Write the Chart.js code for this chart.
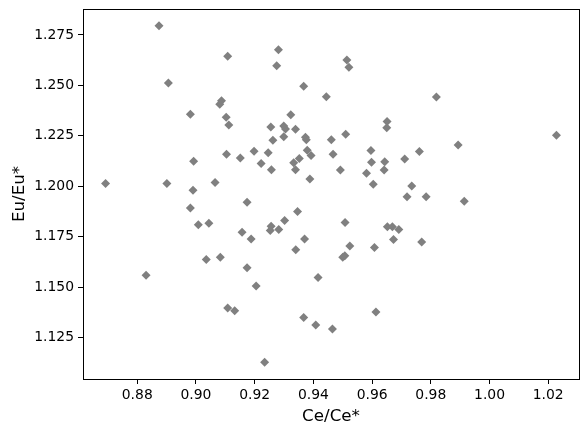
<!DOCTYPE html>
<html>
<head>
<meta charset="utf-8">
<script src="https://cdn.jsdelivr.net/npm/chart.js@4.4.1/dist/chart.umd.min.js"></script>
<style>
  html, body { margin: 0; padding: 0; background: #fff; }
  #chart { display: block; }
</style>
</head>
<body>
<canvas id="chart" width="588" height="436"></canvas>
<script>
// Ce/Ce* vs Eu/Eu* values
const ceRatio = [
  0.8692, 0.8830, 0.8874, 0.8906, 0.8901, 0.8981, 0.8992, 0.8990, 0.8981, 0.9008,
  0.9044, 0.9035, 0.9065, 0.9083, 0.9081, 0.9087, 0.9103, 0.9112, 0.9104, 0.9108,
  0.9108, 0.9132, 0.9151, 0.9157, 0.9174, 0.9174, 0.9188, 0.9198, 0.9205, 0.9222,
  0.9234, 0.9246, 0.9255, 0.9257, 0.9262, 0.9256, 0.9253, 0.9282, 0.9275, 0.9281,
  0.9299, 0.9305, 0.9299, 0.9302, 0.9323, 0.9339, 0.9333, 0.9339, 0.9352, 0.9346,
  0.9340, 0.9367, 0.9373, 0.9376, 0.9379, 0.9392, 0.9388, 0.9370, 0.9416, 0.9367,
  0.9408, 0.9444, 0.9461, 0.9467, 0.9492, 0.9465, 0.9510, 0.9514, 0.9521, 0.9508,
  0.9524, 0.9500, 0.9507, 0.9596, 0.9598, 0.9581, 0.9604, 0.9643, 0.9641, 0.9651,
  0.9650, 0.9608, 0.9613, 0.9652, 0.9669, 0.9691, 0.9673, 0.9711, 0.9761, 0.9735,
  0.9719, 0.9784, 0.9769, 0.9819, 0.9893, 0.9914, 1.0228
];
const euRatio = [
  1.2013, 1.1559, 1.2795, 1.2512, 1.2013, 1.2357, 1.2124, 1.1980, 1.1892, 1.1809,
  1.1816, 1.1637, 1.2018, 1.1648, 1.2406, 1.2424, 1.2342, 1.2303, 1.2158, 1.2644,
  1.1396, 1.1383, 1.2140, 1.1772, 1.1921, 1.1596, 1.1738, 1.2173, 1.1505, 1.2113,
  1.1128, 1.2166, 1.2293, 1.2082, 1.2228, 1.1802, 1.1781, 1.1785, 1.2597, 1.2676,
  1.2299, 1.2284, 1.2245, 1.1830, 1.2354, 1.2282, 1.2116, 1.2082, 1.2138, 1.1875,
  1.1685, 1.2495, 1.2243, 1.2230, 1.2178, 1.2152, 1.2036, 1.1738, 1.1548, 1.1350,
  1.1312, 1.2444, 1.2230, 1.2158, 1.2081, 1.1293, 1.2257, 1.2625, 1.2590, 1.1820,
  1.1704, 1.1648, 1.1656, 1.2177, 1.2119, 1.2064, 1.2010, 1.2121, 1.2081, 1.2321,
  1.2290, 1.1696, 1.1377, 1.1799, 1.1799, 1.1786, 1.1736, 1.2135, 1.2172, 1.2001,
  1.1948, 1.1948, 1.1724, 1.2442, 1.2204, 1.1926, 1.2253
];
const xTicks = [0.88, 0.90, 0.92, 0.94, 0.96, 0.98, 1.00, 1.02];
const yTicks = [1.125, 1.150, 1.175, 1.200, 1.225, 1.250, 1.275];

// matplotlib-style 5% margins
function padRange(vals) {
  const lo = Math.min(...vals), hi = Math.max(...vals);
  const m = (hi - lo) * 0.05;
  return [lo - m, hi + m];
}
const [xMin, xMax] = padRange(ceRatio);
const [yMin, yMax] = padRange(euRatio);

const points = ceRatio.map((x, i) => ({ x: x, y: euRatio[i] }));

// draw the top/right spines too
const frame = {
  id: "frame",
  afterDraw(chart) {
    const { ctx, chartArea: a } = chart;
    ctx.save();
    ctx.strokeStyle = "#000";
    ctx.lineWidth = 1;
    ctx.strokeRect(Math.round(a.left) + 0.5, Math.round(a.top) + 0.5,
      Math.round(a.right - a.left), Math.round(a.bottom - a.top));
    ctx.restore();
  }
};

const tickFont = { family: "DejaVu Sans", size: 13.9 };
const titleFont = { family: "DejaVu Sans", size: 16.7 };

new Chart(document.getElementById("chart"), {
  type: "scatter",
  data: {
    datasets: [{
      data: points,
      pointStyle: "rectRot",
      pointRadius: 4.5,
      pointHoverRadius: 4.5,
      backgroundColor: "#808080",
      borderColor: "#808080",
      borderWidth: 0
    }]
  },
  options: {
    responsive: false,
    devicePixelRatio: 1,
    animation: false,
    layout: { padding: { left: 0, right: 9, top: 9, bottom: 0 } },
    plugins: { legend: { display: false }, tooltip: { enabled: false } },
    scales: {
      x: {
        type: "linear",
        min: xMin,
        max: xMax,
        afterBuildTicks: (s) => { s.ticks = xTicks.map(v => ({ value: v })); },
        afterFit: (s) => { s.height = 57; s.paddingLeft = 0; s.paddingRight = 0; },
        grid: { display: true, drawOnChartArea: false, drawTicks: true, tickLength: 5, tickColor: "#000", tickWidth: 1 },
        border: { display: true, color: "#000", width: 1 },
        ticks: { color: "#000", font: tickFont, padding: 3, maxRotation: 0, autoSkip: false,
          callback: (v) => Number(v).toFixed(2) },
        title: { display: true, text: "Ce/Ce*", color: "#000", font: titleFont, padding: { top: 0, bottom: 9 } }
      },
      y: {
        type: "linear",
        min: yMin,
        max: yMax,
        afterBuildTicks: (s) => { s.ticks = yTicks.map(v => ({ value: v })); },
        afterFit: (s) => { s.width = 83; s.paddingTop = 0; s.paddingBottom = 0; },
        grid: { display: true, drawOnChartArea: false, drawTicks: true, tickLength: 5, tickColor: "#000", tickWidth: 1 },
        border: { display: true, color: "#000", width: 1 },
        ticks: { color: "#000", font: tickFont, padding: 4, autoSkip: false,
          callback: (v) => Number(v).toFixed(3) },
        title: { display: true, text: "Eu/Eu*", color: "#000", font: titleFont, padding: { top: 10, bottom: 0 } }
      }
    }
  },
  plugins: [frame]
});
</script>
</body>
</html>
